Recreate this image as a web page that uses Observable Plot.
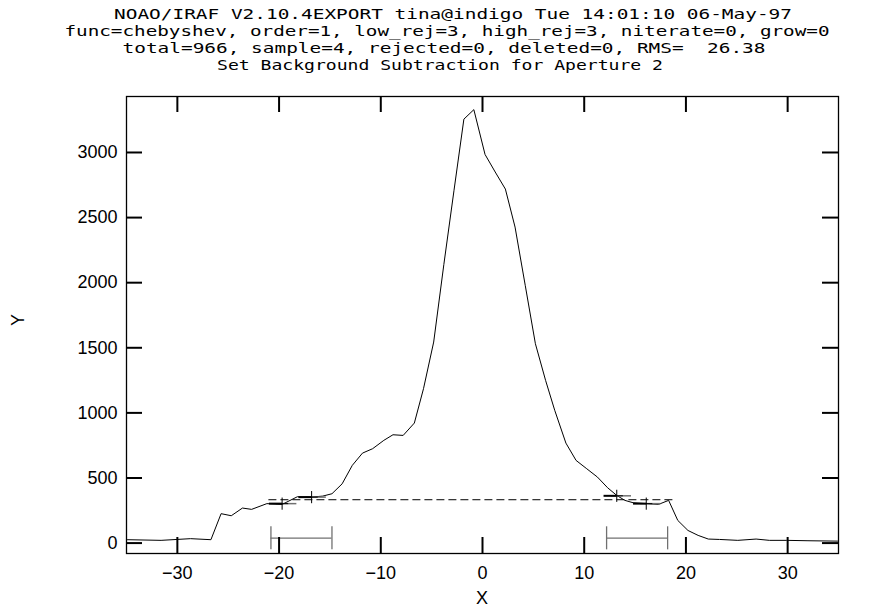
<!DOCTYPE html>
<html><head><meta charset="utf-8">
<script src="https://cdn.jsdelivr.net/npm/d3@7"></script>
<script src="https://cdn.jsdelivr.net/npm/@observablehq/plot@0.6"></script>
<style>body{margin:0;background:#fff}</style>
</head><body><div id="chart"></div>
<script>
// Title lines
const titleLines = [
  "NOAO/IRAF V2.10.4EXPORT tina@indigo Tue 14:01:10 06-May-97",
  "func=chebyshev, order=1, low_rej=3, high_rej=3, niterate=0, grow=0",
  "total=966, sample=4, rejected=0, deleted=0, RMS=  26.38",
  "Set Background Subtraction for Aperture 2"
];
// Aperture profile
const profileX = [-34.9,-31.6,-28.7,-26.7,-25.7,-24.7,-23.6,-22.7,-21.2,-19.7,-18.2,-16.8,-15.7,-14.8,-13.8,-12.8,-11.8,-10.8,-9.7,-8.8,-7.8,-6.7,-5.8,-4.8,-3.8,-2.8,-1.83,-0.85,0.25,1.25,2.25,3.2,4.2,5.2,6.2,7.1,8.2,9.2,10.2,11.3,12.3,13.2,14.0,14.8,16.1,17.3,18.3,19.2,20.2,21.2,22.2,23.3,25.1,26.9,28.2,29.9,32.0,34.9];
const profileY = [26,21,34,26,226,210,269,259,303,297,356,353,361,379,455,597,691,725,789,832,827,922,1186,1544,2140,2710,3256,3329,2985,2850,2719,2427,1980,1531,1250,1020,768,635,574,507,425,366,328,310,303,297,328,174,97,59,31,28,21,31,21,21,18,15];
// Axis ticks
const xTicks = [-30,-20,-10,0,10,20,30];
const yTicks = [0,500,1000,1500,2000,2500,3000];
// Background fit
const fitLevel = [333];
const fitStart = [-21];
const fitEnd = [19];
const bgStart = [-20.8, 12.2];
const bgEnd = [-14.8, 18.2];
const sampleX = [-19.7, -16.8, 13.2, 16.1];
const sampleY = [303, 353, 363, 303];

const profile = profileX.map((x, i) => ({x, y: profileY[i]}));
const fit = fitLevel.map((y, i) => ({y, x1: fitStart[i], x2: fitEnd[i]}));
const regions = bgStart.map((a, i) => ({a, b: bgEnd[i]}));
const samples = sampleX.map((x, i) => ({x, y: sampleY[i]}));

const W = 887, H = 612, mT = 96, mL = 126, mR = 49, mB = 59;
const pw = W - mL - mR, ph = H - mT - mB, tk = 16;
const barY = 38, capLo = -52, capHi = 125, gray = "#707070";

const chart = Plot.plot({
  width: W, height: H,
  marginTop: mT, marginLeft: mL, marginRight: mR, marginBottom: mB,
  style: {fontFamily: "'Liberation Sans', Arial, sans-serif", fontSize: "18px", background: "#fff", color: "#000"},
  x: {domain: [-35, 35], ticks: xTicks, tickSize: 0, tickPadding: 13, label: null, tickFormat: d => String(d).replace("-", "\u2212")},
  y: {domain: [-80, 3430], ticks: yTicks, tickSize: 0, tickPadding: 9, label: null, tickFormat: d => String(d)},
  marks: [
    Plot.ruleY(fit, {y: "y", x1: "x1", x2: "x2", stroke: "#000", strokeWidth: 1, strokeDasharray: "8,4"}),
    Plot.ruleY(regions, {y: () => barY, x1: "a", x2: "b", stroke: gray, strokeWidth: 1.3}),
    Plot.ruleX(regions, {x: "a", y1: () => capLo, y2: () => capHi, stroke: gray, strokeWidth: 1.3}),
    Plot.ruleX(regions, {x: "b", y1: () => capLo, y2: () => capHi, stroke: gray, strokeWidth: 1.3}),
    Plot.line(profile, {x: "x", y: "y", stroke: "#000", strokeWidth: 1}),
    Plot.link(samples, {x1: d => d.x - 1.3, x2: d => d.x, y1: "y", y2: "y", stroke: "#000", strokeWidth: 2}),
    Plot.link(samples, {x1: d => d.x, x2: d => d.x + 1.4, y1: "y", y2: "y", stroke: gray, strokeWidth: 1.5}),
    Plot.dot(samples, {x: "x", y: "y", symbol: "plus", r: 4, stroke: "#000", strokeWidth: 1}),
    Plot.tickX(xTicks, {x: d => d, insetTop: ph - tk, stroke: "#000", strokeWidth: 2}),
    Plot.tickX(xTicks, {x: d => d, insetBottom: ph - tk, stroke: "#000", strokeWidth: 2}),
    Plot.tickY(yTicks, {y: d => d, insetRight: pw - tk, stroke: "#000", strokeWidth: 2}),
    Plot.tickY(yTicks, {y: d => d, insetLeft: pw - tk, stroke: "#000", strokeWidth: 2}),
    Plot.frame({stroke: "#000", strokeWidth: 1.3})
  ]
});

const svg = d3.select(chart);
const tCenters = [453, 447, 444, 440];
const tWidths = [678, 765, 643, 446];
const tBase = [19, 36, 53, 70];
titleLines.forEach((t, i) => {
  svg.append("text")
    .attr("x", tCenters[i] - tWidths[i] / 2)
    .attr("y", tBase[i])
    .attr("text-anchor", "start")
    .attr("textLength", tWidths[i])
    .attr("lengthAdjust", "spacingAndGlyphs")
    .style("font-family", "'DejaVu Sans Mono', monospace")
    .style("font-size", "14.5px")
    .style("white-space", "pre")
    .attr("xml:space", "preserve")
    .attr("fill", "#000")
    .text(t);
});
svg.append("text").attr("x", mL + pw / 2).attr("y", 604)
  .attr("text-anchor", "middle").style("font-size", "18px").attr("fill", "#000").text("X");
svg.append("text").attr("transform", "translate(24,320) rotate(-90)")
  .attr("text-anchor", "middle").style("font-size", "18px").attr("fill", "#000").text("Y");

document.getElementById("chart").appendChild(chart);
</script>
</body></html>
